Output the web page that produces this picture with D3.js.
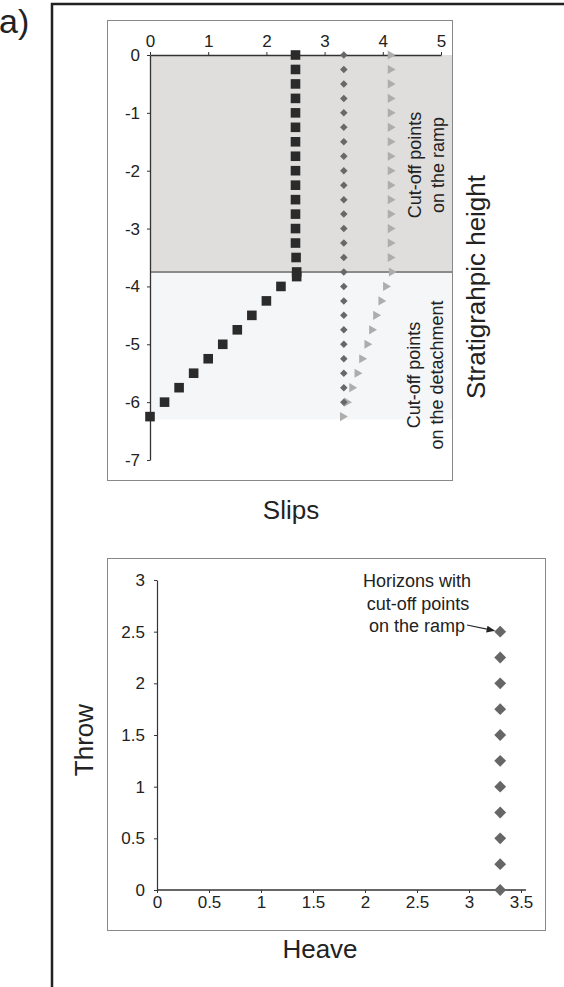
<!doctype html>
<html lang="en">

<head>
    <meta charset="utf-8">
    <title>Slips and heave/throw</title>
    <style>
        body {
            margin: 0;
            background-color: white;
        }

        svg {
            display: block;
            font-family: "Liberation Sans", Arial, sans-serif;
        }

        .axis path,
        .axis line {
            stroke: #333;
        }
    </style>
</head>

<body>
    <svg width="564" height="987"></svg>

    <script src="https://d3js.org/d3.v7.min.js"></script>
    <script>
        // top chart: slips against stratigraphic height
        var slipTicks = [0, 1, 2, 3, 4, 5];
        var heightTicks = [0, -1, -2, -3, -4, -5, -6, -7];
        var rampBase = -3.75;
        var detachBase = -6.3;

        // black squares
        var squareX = [2.5, 2.5, 2.5, 2.5, 2.5, 2.5, 2.5, 2.5, 2.5, 2.5, 2.5, 2.5, 2.5, 2.5, 2.51, 2.52, 2.52,
            2.25, 2.0, 1.75, 1.5, 1.25, 1.0, 0.75, 0.5, 0.25, 0];
        var squareY = [0, -0.25, -0.5, -0.75, -1, -1.25, -1.5, -1.75, -2, -2.25, -2.5, -2.75, -3, -3.25, -3.5, -3.75, -3.83,
            -4, -4.25, -4.5, -4.75, -5, -5.25, -5.5, -5.75, -6, -6.25];

        // dark grey diamonds
        var diamondX = [3.33, 3.33, 3.33, 3.33, 3.33, 3.33, 3.33, 3.33, 3.33, 3.33, 3.33, 3.33, 3.33,
            3.33, 3.33, 3.33, 3.33, 3.33, 3.33, 3.33, 3.33, 3.33, 3.33, 3.33, 3.33];
        var diamondY = [0, -0.25, -0.5, -0.75, -1, -1.25, -1.5, -1.75, -2, -2.25, -2.5, -2.75, -3,
            -3.25, -3.5, -3.75, -4, -4.25, -4.5, -4.75, -5, -5.25, -5.5, -5.75, -6];

        // light grey triangles
        var triX = [4.13, 4.13, 4.13, 4.13, 4.13, 4.13, 4.13, 4.13, 4.13, 4.13, 4.13, 4.13, 4.13, 4.13, 4.13, 4.15,
            4.05, 3.97, 3.88, 3.81, 3.73, 3.64, 3.56, 3.47, 3.38, 3.31];
        var triY = [0, -0.25, -0.5, -0.75, -1, -1.25, -1.5, -1.75, -2, -2.25, -2.5, -2.75, -3, -3.25, -3.5, -3.75,
            -4, -4.25, -4.5, -4.75, -5, -5.25, -5.5, -5.75, -6, -6.25];

        // bottom chart: throw against heave
        var heaveTicks = [0, 0.5, 1, 1.5, 2, 2.5, 3, 3.5];
        var throwTicks = [0, 0.5, 1, 1.5, 2, 2.5, 3];
        var heave = [3.3, 3.3, 3.3, 3.3, 3.3, 3.3, 3.3, 3.3, 3.3, 3.3, 3.3];
        var throwVals = [2.5, 2.25, 2, 1.75, 1.5, 1.25, 1, 0.75, 0.5, 0.25, 0];

        var tickFont = 17;
        var noteFont = 18;
        var titleFont = 26;
        var plain = function(d) { return String(d); };

        var svg = d3.select("svg");

        // outer frame
        svg.append("rect")
            .attr("x", 52).attr("y", 4)
            .attr("width", 600).attr("height", 1100)
            .attr("fill", "none")
            .attr("stroke", "#222")
            .attr("stroke-width", 2.5);

        svg.append("text")
            .attr("x", -1).attr("y", 33)
            .attr("font-size", 34)
            .attr("fill", "#222")
            .text("a)");

        function styleAxis(g) {
            g.attr("font-size", null).attr("font-family", null);
            g.selectAll("text").attr("font-size", tickFont).attr("fill", "#222");
        }

        // ---------- top chart ----------
        svg.append("rect")
            .attr("x", 107.5).attr("y", 20.5)
            .attr("width", 345).attr("height", 460)
            .attr("fill", "none")
            .attr("stroke", "#888");

        var x1 = d3.scaleLinear().domain([0, 5]).range([150, 441]);
        var y1 = d3.scaleLinear().domain([-7, 0]).range([460, 55]);
        var rightEdge = 452;

        svg.append("rect")
            .attr("x", x1(0)).attr("y", y1(0))
            .attr("width", rightEdge - x1(0)).attr("height", y1(rampBase) - y1(0))
            .attr("fill", "#dfdedd");

        svg.append("rect")
            .attr("x", x1(0)).attr("y", y1(rampBase))
            .attr("width", rightEdge - x1(0)).attr("height", y1(detachBase) - y1(rampBase))
            .attr("fill", "#f5f6f8");

        svg.append("line")
            .attr("x1", x1(0)).attr("x2", rightEdge)
            .attr("y1", y1(rampBase)).attr("y2", y1(rampBase))
            .attr("stroke", "#8a8a8a")
            .attr("stroke-width", 2);

        svg.append("g")
            .attr("class", "axis")
            .attr("transform", "translate(0," + y1(0) + ")")
            .call(d3.axisTop(x1).tickValues(slipTicks).tickFormat(plain).tickSize(3).tickPadding(5).tickSizeOuter(0))
            .call(styleAxis)
            .call(function(g) { g.select(".domain").attr("stroke-width", 1.3); });

        svg.append("g")
            .attr("class", "axis")
            .attr("transform", "translate(" + x1(0) + ",0)")
            .call(d3.axisLeft(y1).tickValues(heightTicks).tickFormat(plain).tickSize(3).tickPadding(7).tickSizeOuter(0))
            .call(styleAxis)
            .call(function(g) { g.select(".domain").attr("stroke-width", 1.3); });

        var squares = d3.range(squareX.length).map(function(i) { return [squareX[i], squareY[i]]; });
        var diamonds = d3.range(diamondX.length).map(function(i) { return [diamondX[i], diamondY[i]]; });
        var tris = d3.range(triX.length).map(function(i) { return [triX[i], triY[i]]; });

        svg.append("g").selectAll("path")
            .data(tris)
            .enter().append("path")
            .attr("d", d3.symbol().type(d3.symbolTriangle).size(36))
            .attr("transform", function(d) {
                return "translate(" + x1(d[0]) + "," + y1(d[1]) + ") rotate(90)";
            })
            .attr("fill", "#adadad");

        svg.append("g").selectAll("path")
            .data(diamonds)
            .enter().append("path")
            .attr("d", d3.symbol().type(d3.symbolSquare).size(28))
            .attr("transform", function(d) {
                return "translate(" + x1(d[0]) + "," + y1(d[1]) + ") rotate(45)";
            })
            .attr("fill", "#686868");

        svg.append("g").selectAll("path")
            .data(squares)
            .enter().append("path")
            .attr("d", d3.symbol().type(d3.symbolSquare).size(92))
            .attr("transform", function(d) {
                return "translate(" + x1(d[0]) + "," + y1(d[1]) + ")";
            })
            .attr("fill", "#2b2b2b");

        function vtext(x, y, str, size, dy) {
            svg.append("text")
                .attr("transform", "translate(" + x + "," + y + ") rotate(-90)")
                .attr("text-anchor", "middle")
                .attr("dy", dy)
                .attr("font-size", size)
                .attr("fill", "#222")
                .text(str);
        }

        vtext(415, 165, "Cut-off points", noteFont, ".35em");
        vtext(438, 165, "on the ramp", noteFont, ".35em");
        vtext(414, 375, "Cut-off points", noteFont, ".35em");
        vtext(437, 375, "on the detachment", noteFont, ".35em");
        vtext(485, 287, "Stratigrahpic height", titleFont, "0");

        svg.append("text")
            .attr("x", 291).attr("y", 519)
            .attr("text-anchor", "middle")
            .attr("font-size", titleFont)
            .attr("fill", "#222")
            .text("Slips");

        // ---------- bottom chart ----------
        svg.append("rect")
            .attr("x", 107.5).attr("y", 558.5)
            .attr("width", 438).attr("height", 372)
            .attr("fill", "none")
            .attr("stroke", "#888");

        var x2 = d3.scaleLinear().domain([0, 3.5]).range([157, 521]);
        var y2 = d3.scaleLinear().domain([0, 3]).range([890, 580]);

        svg.append("g")
            .attr("class", "axis")
            .attr("transform", "translate(" + x2(0) + ",0)")
            .call(d3.axisLeft(y2).tickValues(throwTicks).tickFormat(plain).tickSize(3).tickPadding(9).tickSizeOuter(0))
            .call(styleAxis)
            .call(function(g) { g.select(".domain").attr("stroke-width", 1.2); });

        svg.append("g")
            .attr("class", "axis")
            .attr("transform", "translate(0," + y2(0) + ")")
            .call(d3.axisBottom(x2).tickValues(heaveTicks).tickFormat(plain).tickSize(3).tickPadding(3).tickSizeOuter(0))
            .call(styleAxis)
            .call(function(g) {
                g.select(".domain").attr("d", "M" + x2(0) + ",0H" + (x2(3.5) + 5)).attr("stroke", "#555").attr("stroke-width", 1.6);
            });

        svg.append("g").selectAll("path")
            .data(d3.range(heave.length).map(function(i) { return [heave[i], throwVals[i]]; }))
            .enter().append("path")
            .attr("d", d3.symbol().type(d3.symbolSquare).size(70))
            .attr("transform", function(d) {
                return "translate(" + x2(d[0]) + "," + y2(d[1]) + ") rotate(45)";
            })
            .attr("fill", "#666");

        svg.append("defs").append("marker")
            .attr("id", "arrow")
            .attr("viewBox", "0 0 10 10")
            .attr("refX", 9).attr("refY", 5)
            .attr("markerWidth", 7).attr("markerHeight", 7)
            .attr("orient", "auto")
            .append("path")
            .attr("d", "M0,1L10,5L0,9z")
            .attr("fill", "#222");

        svg.append("line")
            .attr("x1", 467).attr("y1", 625)
            .attr("x2", x2(3.3) - 6).attr("y2", y2(2.5) - 1)
            .attr("stroke", "#222")
            .attr("stroke-width", 1.2)
            .attr("marker-end", "url(#arrow)");

        var note = svg.append("text")
            .attr("text-anchor", "middle")
            .attr("font-size", noteFont)
            .attr("fill", "#222");
        note.append("tspan").attr("x", 417).attr("y", 587).text("Horizons with");
        note.append("tspan").attr("x", 418).attr("y", 610).text("cut-off points");
        note.append("tspan").attr("x", 417).attr("y", 632).text("on the ramp");

        svg.append("text")
            .attr("transform", "translate(93,740) rotate(-90)")
            .attr("text-anchor", "middle")
            .attr("font-size", titleFont)
            .attr("fill", "#222")
            .text("Throw");

        svg.append("text")
            .attr("x", 320).attr("y", 958)
            .attr("text-anchor", "middle")
            .attr("font-size", titleFont)
            .attr("fill", "#222")
            .text("Heave");
    </script>
</body>

</html>
